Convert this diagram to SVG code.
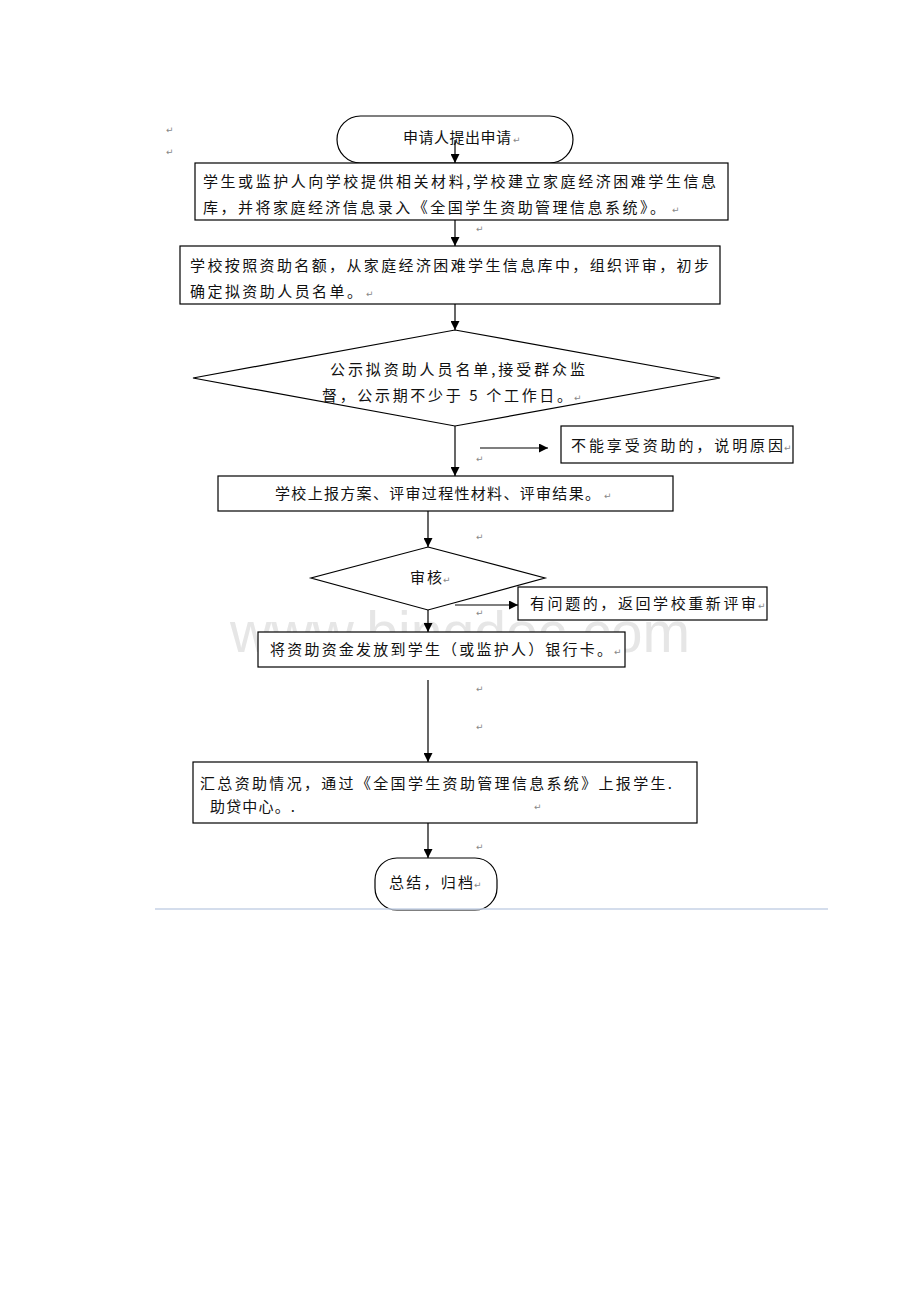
<svg xmlns="http://www.w3.org/2000/svg" width="920" height="1302" viewBox="0 0 920 1302">
<style>
.s{fill:#fff;stroke:#000;stroke-width:1.2}
.t{font-family:"Noto Sans CJK SC","Noto Sans CJK JP",sans-serif;font-size:15px;fill:#111}
.pm{font-family:"DejaVu Sans",sans-serif;font-size:9px;fill:#888}
.c{stroke:#000;stroke-width:1.2;fill:none}
.wm{font-family:"Liberation Sans",Arial,sans-serif;font-size:58px;fill:#e6e6e6}
</style>
<defs>
<marker id="ah" viewBox="0 0 10 10" refX="10" refY="5" markerWidth="9" markerHeight="9" markerUnits="userSpaceOnUse" orient="auto">
<path d="M0,0 L10,5 L0,10 z" fill="#000"/>
</marker>
</defs>
<rect width="920" height="1302" fill="#fff"/>
<text class="wm" x="230" y="652" textLength="460" lengthAdjust="spacingAndGlyphs">www.bingdoc.com</text>

<g id="n-start">
<rect class="s" x="337" y="116" width="236" height="47" rx="23.5"/>
<text class="t" x="403" y="143" textLength="108" lengthAdjust="spacing">申请人提出申请</text>
<text class="pm" x="513" y="143">↵</text>
</g>
<g id="n-box1">
<rect class="s" x="195" y="163" width="533" height="57"/>
<text class="t" x="203" y="187" textLength="513" lengthAdjust="spacing">学生或监护人向学校提供相关材料,学校建立家庭经济困难学生信息</text>
<text class="t" x="203" y="213" textLength="462" lengthAdjust="spacing">库，并将家庭经济信息录入《全国学生资助管理信息系统》。</text>
<text class="pm" x="672" y="213">↵</text>
</g>
<g id="n-box2">
<rect class="s" x="180" y="246" width="540" height="58"/>
<text class="t" x="190" y="271" textLength="519" lengthAdjust="spacing">学校按照资助名额，从家庭经济困难学生信息库中，组织评审，初步</text>
<text class="t" x="190" y="297" textLength="172" lengthAdjust="spacing">确定拟资助人员名单。</text>
<text class="pm" x="366" y="297">↵</text>
</g>
<g id="n-publicity">
<polygon class="s" points="455,330 720,378 455,426 193,378"/>
<text class="t" x="330" y="375" textLength="255" lengthAdjust="spacing">公示拟资助人员名单,接受群众监</text>
<text class="t" x="322" y="401" textLength="250" lengthAdjust="spacing">督，公示期不少于 5 个工作日。</text>
<text class="pm" x="574" y="401">↵</text>
</g>
<g id="n-reject">
<rect class="s" x="561" y="426" width="232" height="37"/>
<text class="t" x="571" y="451" textLength="212" lengthAdjust="spacing">不能享受资助的，说明原因</text>
<text class="pm" x="784" y="451">↵</text>
</g>
<g id="n-box3">
<rect class="s" x="218" y="476" width="455" height="35"/>
<text class="t" x="275" y="499" textLength="325" lengthAdjust="spacing">学校上报方案、评审过程性材料、评审结果。</text>
<text class="pm" x="604" y="499">↵</text>
</g>
<g id="n-review">
<polygon class="s" points="428,547 545,578 428,610 311,578"/>
<text class="t" x="410" y="583" textLength="32" lengthAdjust="spacing">审核</text>
<text class="pm" x="443" y="583">↵</text>
</g>
<g id="n-return">
<rect class="s" x="518" y="587" width="249" height="33"/>
<text class="t" x="530" y="609" textLength="226" lengthAdjust="spacing">有问题的，返回学校重新评审</text>
<text class="pm" x="758" y="609">↵</text>
</g>
<g id="n-box4">
<rect class="s" x="258" y="632" width="367" height="35"/>
<text class="t" x="270" y="655" textLength="342" lengthAdjust="spacing">将资助资金发放到学生（或监护人）银行卡。</text>
<text class="pm" x="614" y="655">↵</text>
</g>
<g id="n-box5">
<rect class="s" x="193" y="762" width="504" height="61"/>
<text class="t" x="200" y="789" textLength="472" lengthAdjust="spacing">汇总资助情况，通过《全国学生资助管理信息系统》上报学生.</text>
<text class="t" x="210" y="812" textLength="85" lengthAdjust="spacing">助贷中心。.</text>
<text class="pm" x="534" y="810">↵</text>
</g>
<g id="n-end">
<rect class="s" x="375" y="858" width="122" height="52" rx="22"/>
<text class="t" x="389" y="888" textLength="84" lengthAdjust="spacing">总结，归档</text>
<text class="pm" x="474" y="888">↵</text>
</g>

<g id="connectors">
<line class="c" x1="455" y1="140" x2="455" y2="163" marker-end="url(#ah)"/>
<line class="c" x1="455" y1="220" x2="455" y2="246" marker-end="url(#ah)"/>
<line class="c" x1="455" y1="304" x2="455" y2="330" marker-end="url(#ah)"/>
<line class="c" x1="455" y1="426" x2="455" y2="476" marker-end="url(#ah)"/>
<line class="c" x1="480" y1="448" x2="548" y2="448" marker-end="url(#ah)"/>
<line class="c" x1="428" y1="511" x2="428" y2="547" marker-end="url(#ah)"/>
<line class="c" x1="455" y1="605" x2="518" y2="605" marker-end="url(#ah)"/>
<line class="c" x1="428" y1="610" x2="428" y2="632" marker-end="url(#ah)"/>
<line class="c" x1="428" y1="680" x2="428" y2="762" marker-end="url(#ah)"/>
<line class="c" x1="428" y1="823" x2="428" y2="858" marker-end="url(#ah)"/>
</g>

<g id="marks">
<text class="pm" x="166" y="133">↵</text>
<text class="pm" x="166" y="155">↵</text>
<text class="pm" x="476" y="232">↵</text>
<text class="pm" x="476" y="462">↵</text>
<text class="pm" x="476" y="540">↵</text>
<text class="pm" x="476" y="616">↵</text>
<text class="pm" x="476" y="692">↵</text>
<text class="pm" x="476" y="730">↵</text>
<text class="pm" x="476" y="850">↵</text>
</g>
<line x1="155" y1="909" x2="828" y2="909" stroke="#c6d2e6" stroke-width="1.5"/>
</svg>
